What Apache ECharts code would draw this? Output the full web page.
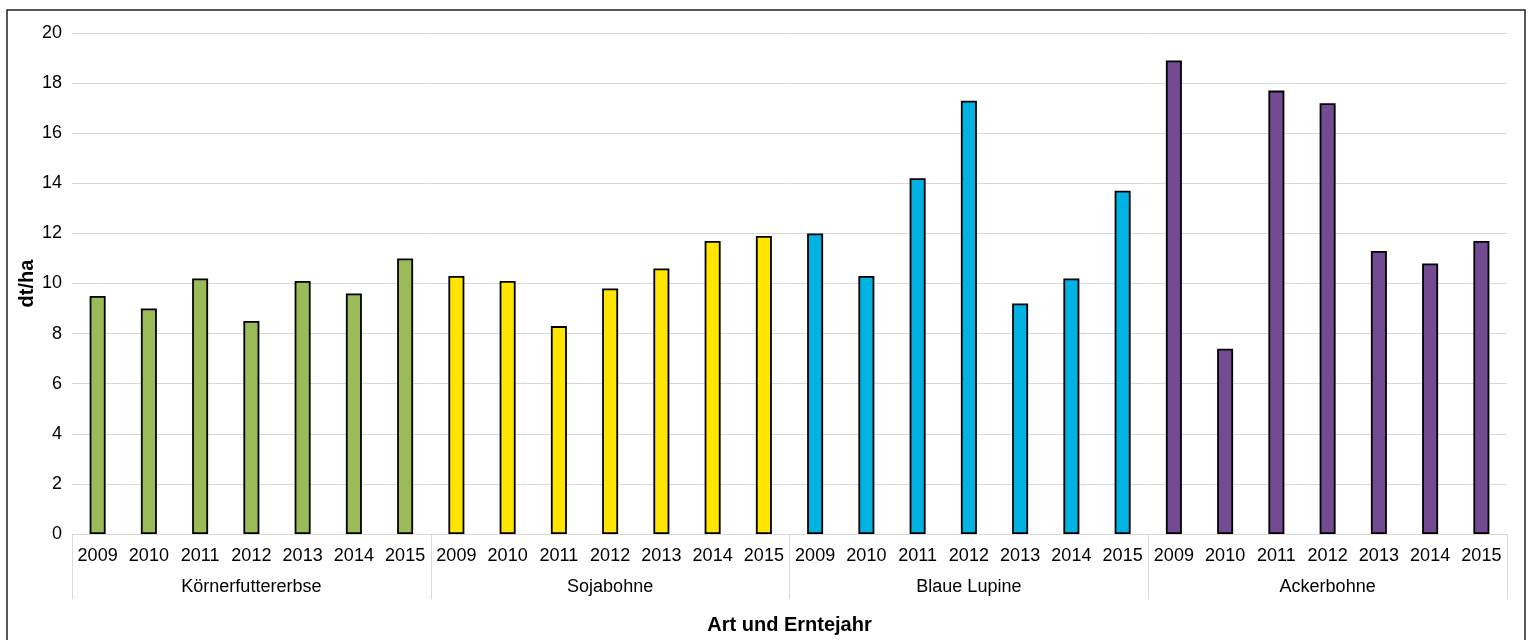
<!DOCTYPE html>
<html>
<head>
<meta charset="utf-8">
<script src="https://cdn.jsdelivr.net/npm/echarts@6/dist/echarts.min.js"></script>
<style>
  html, body { margin: 0; padding: 0; background: #fff; }
  #chart { width: 1530px; height: 640px; }
</style>
</head>
<body>
<div id="chart"></div>
<script>
// Crop species and harvest years
const groups = ['Körnerfuttererbse', 'Sojabohne', 'Blaue Lupine', 'Ackerbohne'];
const years = ['2009', '2010', '2011', '2012', '2013', '2014', '2015'];

// Yield in dt/ha per species, one value per harvest year
const koernerfuttererbse = [9.5, 9.0, 10.2, 8.5, 10.1, 9.6, 11.0];
const sojabohne = [10.3, 10.1, 8.3, 9.8, 10.6, 11.7, 11.9];
const blaueLupine = [12.0, 10.3, 14.2, 17.3, 9.2, 10.2, 13.7];
const ackerbohne = [18.9, 7.4, 17.7, 17.2, 11.3, 10.8, 11.7];

const groupValues = [koernerfuttererbse, sojabohne, blaueLupine, ackerbohne];
const groupColors = ['#9bbb59', '#ffe500', '#00b3e3', '#724b93'];

const font = '"Liberation Sans", Arial, sans-serif';

// Flatten into one category per species/year pair
const categories = [];
const barData = [];
groups.forEach(function (g, gi) {
  years.forEach(function (y, yi) {
    categories.push(g + '|' + y);
    barData.push({ value: groupValues[gi][yi], itemStyle: { color: groupColors[gi] } });
  });
});

const chart = echarts.init(document.getElementById('chart'), null, { renderer: 'canvas' });

const gridLeft = 72, gridRight = 23, gridTop = 33, gridBottom = 106;
const plotCenterX = gridLeft + (1530 - gridLeft - gridRight) / 2;

chart.setOption({
  animation: false,
  backgroundColor: '#ffffff',
  grid: { left: gridLeft, right: gridRight, top: gridTop, bottom: gridBottom, containLabel: false },
  xAxis: [
    {
      type: 'category',
      data: categories,
      position: 'bottom',
      axisLine: { show: true, lineStyle: { color: '#d9d9d9', width: 1 } },
      axisTick: { show: false },
      axisLabel: {
        interval: 0,
        margin: 13,
        color: '#000',
        fontFamily: font,
        fontSize: 18,
        formatter: function (v) { return v.split('|')[1]; }
      },
      splitLine: { show: false }
    },
    {
      type: 'category',
      data: groups,
      position: 'bottom',
      axisLine: { show: false },
      axisTick: { show: true, interval: 0, length: 65, lineStyle: { color: '#d9d9d9', width: 1 } },
      axisLabel: {
        interval: 0,
        margin: 44,
        color: '#000',
        fontFamily: font,
        fontSize: 18
      },
      splitLine: { show: false }
    }
  ],
  yAxis: {
    type: 'value',
    min: 0,
    max: 20,
    interval: 2,
    name: 'dt/ha',
    nameLocation: 'middle',
    nameRotate: 90,
    nameGap: 35,
    nameMoveOverlap: false,
    nameTextStyle: { color: '#000', fontFamily: font, fontSize: 20, fontWeight: 'bold' },
    axisLine: { show: false },
    axisTick: { show: false },
    axisLabel: { margin: 10, color: '#000', fontFamily: font, fontSize: 18 },
    splitLine: { show: true, lineStyle: { color: '#d9d9d9', width: 1 } }
  },
  series: [
    {
      type: 'bar',
      xAxisIndex: 0,
      data: barData,
      barWidth: 16,
      itemStyle: { borderColor: '#000', borderWidth: 1.8 }
    }
  ],
  graphic: [
    {
      type: 'rect',
      shape: { x: 7, y: 10, width: 1518, height: 640 },
      style: { fill: null, stroke: '#222', lineWidth: 1.5 },
      silent: true,
      z: 100
    },
    {
      type: 'text',
      x: plotCenterX,
      y: 625,
      style: {
        text: 'Art und Erntejahr',
        fill: '#000',
        font: 'bold 20px ' + font,
        textAlign: 'center',
        textVerticalAlign: 'middle'
      }
    }
  ]
});
</script>
</body>
</html>
